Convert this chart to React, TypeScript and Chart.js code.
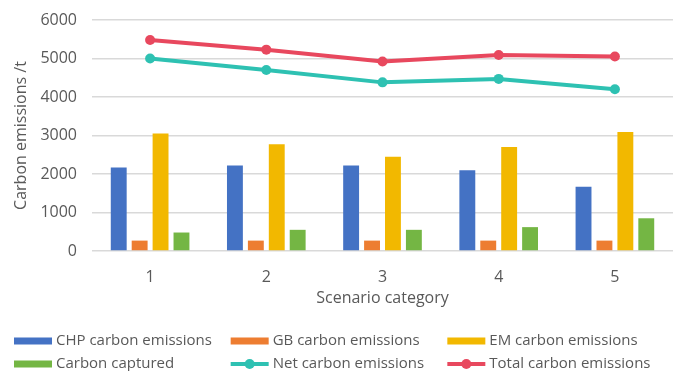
import React, { useEffect, useRef } from "react";
import { Chart, registerables } from "chart.js";

Chart.register(...registerables);

const categories = ["1", "2", "3", "4", "5"];
const chpEmissions = [2170, 2220, 2220, 2100, 1670];
const gbEmissions = [270, 270, 270, 270, 270];
const emEmissions = [3050, 2770, 2450, 2700, 3090];
const carbonCaptured = [480, 550, 550, 620, 850];
const netEmissions = [5000, 4700, 4380, 4470, 4200];
const totalEmissions = [5480, 5230, 4920, 5090, 5050];
const yTicks = [0, 1000, 2000, 3000, 4000, 5000, 6000];

const FONT = "'Open Sans', 'Noto Sans', sans-serif";
const TEXT = "#595959";

// Legend laid out as a three-column grid under the axis title
const gridLegend = {
  id: "gridLegend",
  afterDraw(chart: any) {
    const { ctx, width } = chart;
    const items = chart.data.datasets;
    const colW = (width - 28) / 3;
    const rows = [341, 364];
    ctx.save();
    ctx.font = `15px ${FONT}`;
    ctx.textBaseline = "middle";
    ctx.fillStyle = TEXT;
    items.forEach((ds: any, i: number) => {
      const col = i % 3;
      const row = Math.floor(i / 3);
      const x = 14 + col * colW;
      const y = rows[row];
      if (ds.type === "line") {
        ctx.strokeStyle = ds.borderColor;
        ctx.lineWidth = 4;
        ctx.beginPath();
        ctx.moveTo(x, y);
        ctx.lineTo(x + 38, y);
        ctx.stroke();
        ctx.fillStyle = ds.borderColor;
        ctx.beginPath();
        ctx.arc(x + 19, y, 5, 0, Math.PI * 2);
        ctx.fill();
      } else {
        ctx.fillStyle = ds.backgroundColor;
        ctx.fillRect(x, y - 3.5, 38, 7);
      }
      ctx.fillStyle = TEXT;
      ctx.textAlign = "left";
      ctx.fillText(ds.label, x + 42, y);
    });
    ctx.restore();
  },
};

export default function App() {
  const ref = useRef<HTMLCanvasElement>(null);

  useEffect(() => {
    if (!ref.current) return;
    const bar = (label: string, data: number[], color: string) => ({
      type: "bar" as const,
      label,
      data,
      backgroundColor: color,
      borderWidth: 0,
      categoryPercentage: 0.72,
      barPercentage: 0.76,
    });
    const line = (label: string, data: number[], color: string) => ({
      type: "line" as const,
      label,
      data,
      borderColor: color,
      backgroundColor: color,
      borderWidth: 4,
      pointRadius: 5,
      pointBorderWidth: 0,
      pointBackgroundColor: color,
      fill: false,
      tension: 0,
      order: -1,
    });
    const chart = new Chart(ref.current, {
      type: "bar",
      data: {
        labels: categories,
        datasets: [
          bar("CHP carbon emissions", chpEmissions, "#4472C4"),
          bar("GB carbon emissions", gbEmissions, "#ED7D31"),
          bar("EM carbon emissions", emEmissions, "#F2B800"),
          bar("Carbon captured", carbonCaptured, "#74B644"),
          line("Net carbon emissions", netEmissions, "#2EC1B2"),
          line("Total carbon emissions", totalEmissions, "#E8485E"),
        ] as any,
      },
      options: {
        responsive: false,
        animation: false,
        layout: { padding: { left: 0, right: 2, top: 20, bottom: 50 } },
        plugins: {
          legend: { display: false },
          tooltip: { enabled: false },
        },
        scales: {
          x: {
            grid: { display: false },
            border: { display: false },
            ticks: { color: TEXT, font: { family: FONT, size: 16 }, padding: 9 },
            title: {
              display: true,
              text: "Scenario category",
              color: TEXT,
              font: { family: FONT, size: 16 },
              padding: { top: 0, bottom: 13 },
            },
            afterFit(scale: any) {
              scale.height = 70;
              scale.paddingLeft = 0;
              scale.paddingRight = 0;
            },
          },
          y: {
            min: 0,
            max: 6000,
            afterBuildTicks(scale: any) {
              scale.ticks = yTicks.map((v) => ({ value: v }));
            },
            grid: { color: "#D9D9D9", lineWidth: 1.5, drawTicks: false },
            border: { display: false },
            ticks: {
              color: TEXT,
              font: { family: FONT, size: 16 },
              padding: 15,
              callback: (v: any) => String(v),
            },
            title: {
              display: true,
              text: "Carbon emissions /t",
              color: TEXT,
              font: { family: FONT, size: 16 },
              padding: { top: 12, bottom: 0 },
            },
            afterFit(scale: any) {
              scale.width = 92;
              scale.paddingTop = 0;
              scale.paddingBottom = 0;
            },
          },
        },
      },
      plugins: [gridLegend],
    });
    return () => chart.destroy();
  }, []);

  return (
    <div style={{ position: "fixed", left: 0, top: 0, width: 678, height: 371, background: "#fff" }}>
      <canvas ref={ref} width={678} height={371} style={{ display: "block" }} />
    </div>
  );
}
